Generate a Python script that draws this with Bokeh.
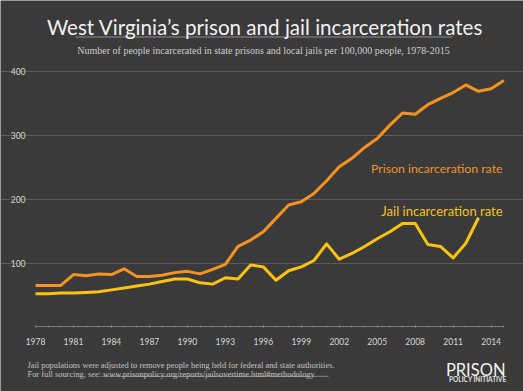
from bokeh.plotting import figure
from bokeh.models import Label, FixedTicker, Range1d, ColumnDataSource, LinearAxis, Grid
from bokeh.embed import file_html
from bokeh.resources import INLINE

# ---- data ----
years = list(range(1978, 2016))
prison_rate = [65, 65, 65, 82, 80, 83, 82, 91, 79, 79, 81, 85, 87, 83, 90, 98,
               126, 136, 149, 170, 191, 196, 209, 229, 251, 264, 281, 295, 316,
               335, 333, 348, 358, 367, 379, 369, 373, 386]
jail_years = list(range(1978, 2014))
jail_rate = [52, 52, 53, 53, 54, 55, 58, 61, 64, 67, 71, 75, 75, 69, 67, 77, 75,
             97, 94, 73, 88, 94, 104, 130, 106, 115, 126, 138, 149, 162, 162,
             129, 126, 108, 131, 171]
x_ticks = [1978, 1981, 1984, 1987, 1990, 1993, 1996, 1999, 2002, 2005, 2008, 2011, 2014]
y_ticks = [100, 200, 300, 400]

# ---- layout (pixel positions on the 523x391 canvas) ----
W, H = 523, 391
X_LEFT_PX, X_RIGHT_PX = 35.0, 503.3      # where 1978 and 2015 sit
Y_ZERO_PX, Y_400_PX = 326.4, 71.0        # where 0 and 400 sit
PX_PER_YEAR = (X_RIGHT_PX - X_LEFT_PX) / (years[-1] - years[0])
PX_PER_UNIT = (Y_ZERO_PX - Y_400_PX) / 400.0
XA = years[0] - X_LEFT_PX / PX_PER_YEAR
XB = XA + W / PX_PER_YEAR
YT = Y_ZERO_PX / PX_PER_UNIT
YB = -(H - Y_ZERO_PX) / PX_PER_UNIT

BG = "#3a3a3a"
ORANGE = "#f7931e"
YELLOW = "#fcc40f"


def dx(px):
    return XA + px / PX_PER_YEAR


def dy(py):
    return (Y_ZERO_PX - py) / PX_PER_UNIT


p = figure(width=W, height=H, output_backend="svg", toolbar_location=None,
           x_range=Range1d(XA, XB), y_range=Range1d(YB, YT),
           x_axis_location=None, y_axis_location=None,
           min_border_left=0, min_border_right=0, min_border_top=0,
           min_border_bottom=0)
p.background_fill_color = BG
p.border_fill_color = BG
p.outline_line_color = None
p.grid.visible = False

ygrid = Grid(dimension=1, ticker=FixedTicker(ticks=y_ticks), bounds=(years[0], years[-1]),
             grid_line_color="#5c5c5c", grid_line_width=1)
p.add_layout(ygrid)

xaxis = LinearAxis(fixed_location=0, bounds=(years[0], years[-1]),
                   ticker=FixedTicker(ticks=x_ticks, minor_ticks=years))
xaxis.axis_line_color = "#7c7c7c"
xaxis.major_tick_line_color = "#7c7c7c"
xaxis.minor_tick_line_color = "#7c7c7c"
xaxis.major_tick_in = 1
xaxis.major_tick_out = 1
xaxis.minor_tick_in = 1
xaxis.minor_tick_out = 1
xaxis.major_label_standoff = 10
xaxis.major_label_text_color = "#d8d8d8"
xaxis.major_label_text_font = "Lato"
xaxis.major_label_text_font_size = "8.5px"
p.add_layout(xaxis, "below")

yaxis = LinearAxis(fixed_location=years[0], ticker=FixedTicker(ticks=y_ticks))
yaxis.axis_line_color = None
yaxis.major_tick_line_color = None
yaxis.minor_tick_line_color = None
yaxis.major_tick_out = 0
yaxis.major_tick_in = 0
yaxis.major_label_standoff = 10
yaxis.major_label_text_color = "#d8d8d8"
yaxis.major_label_text_font = "Lato"
yaxis.major_label_text_font_size = "8.5px"
p.add_layout(yaxis, "left")

src_p = ColumnDataSource(dict(x=years, y=prison_rate))
src_j = ColumnDataSource(dict(x=jail_years, y=jail_rate))
p.line("x", "y", source=src_j, line_color=YELLOW, line_width=3, line_join="round")
p.line("x", "y", source=src_p, line_color=ORANGE, line_width=3, line_join="round")

# title, rule, subtitle
p.add_layout(Label(x=dx(264.5), y=dy(26), text="West Virginia\u2019s prison and jail incarceration rates",
                   text_align="center", text_baseline="alphabetic",
                   text_font="Lato", text_font_size="20.6px", text_color="#f2f2f2"))
p.line(x=[dx(75), dx(452)], y=[dy(36.5), dy(36.5)], line_color="#8e8e8e", line_width=1)
p.add_layout(Label(x=dx(263), y=dy(50), text="Number of people incarcerated in state prisons and local jails per 100,000 people, 1978-2015",
                   text_align="center", text_baseline="alphabetic",
                   text_font="Liberation Serif", text_font_size="10px", text_color="#cfcfcf"))

# series labels
p.add_layout(Label(x=dx(502), y=dy(168), text="Prison incarceration rate",
                   text_align="right", text_baseline="alphabetic",
                   text_font="Lato", text_font_size="12.3px", text_color="#ec962a"))
p.add_layout(Label(x=dx(502), y=dy(210), text="Jail incarceration rate",
                   text_align="right", text_baseline="alphabetic",
                   text_font="Lato", text_font_size="13px", text_color="#f4c21a"))

# footnotes
p.add_layout(Label(x=dx(27), y=dy(365), text="Jail populations were adjusted to remove people being held for federal and state authorities.",
                   text_align="left", text_baseline="alphabetic",
                   text_font="Liberation Serif", text_font_size="8.4px", text_color="#c4c4c4"))
p.add_layout(Label(x=dx(27), y=dy(374), text="For full sourcing, see: www.prisonpolicy.org/reports/jailsovertime.html#methodology",
                   text_align="left", text_baseline="alphabetic",
                   text_font="Liberation Serif", text_font_size="8.4px", text_color="#c4c4c4"))
p.line(x=[dx(101), dx(328)], y=[dy(375.8), dy(375.8)], line_color="#a8a8a8", line_width=0.7)

# logo
p.add_layout(Label(x=dx(505), y=dy(369), text="PRISON",
                   text_align="right", text_baseline="alphabetic",
                   text_font="Lato", text_font_size="16.5px", text_color="#f2f2f2"))
p.add_layout(Label(x=dx(506), y=dy(379), text="POLICY INITIATIVE",
                   text_align="right", text_baseline="alphabetic", text_font_style="bold",
                   text_font="Lato", text_font_size="6.5px", text_color="#e0e0e0"))

open("out.html", "w").write(file_html(p, INLINE))
